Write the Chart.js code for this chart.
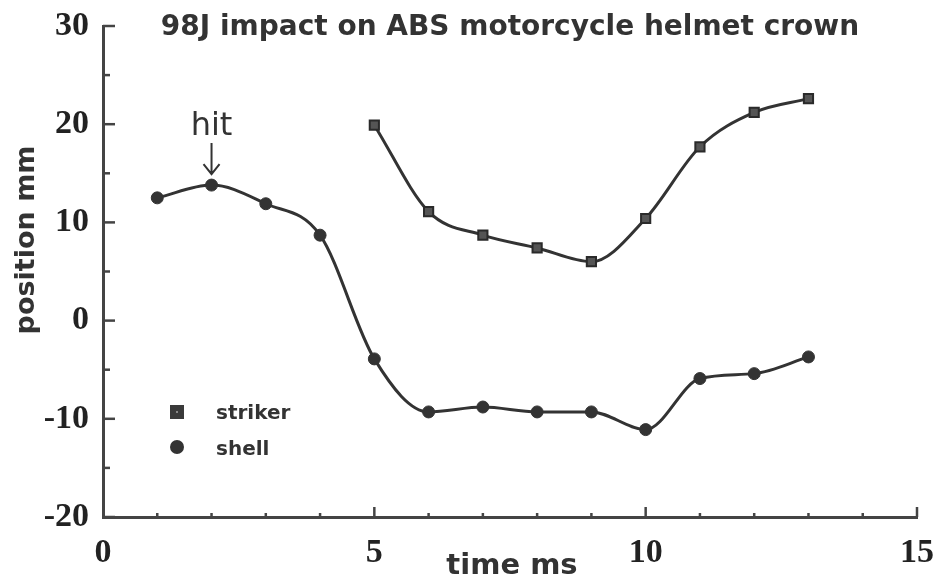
<!DOCTYPE html>
<html>
<head>
<meta charset="utf-8">
<title>98J impact on ABS motorcycle helmet crown</title>
<script src="https://cdn.jsdelivr.net/npm/chart.js@4.4.1/dist/chart.umd.min.js"></script>
<style>
  html, body { margin: 0; padding: 0; background: #fff; }
  #wrap { width: 934px; height: 579px; position: relative; }
</style>
</head>
<body>
<div id="wrap"><canvas id="impactChart"></canvas></div>
<script>
// time in ms, position in mm
const timeMs = [1, 2, 3, 4, 5, 6, 7, 8, 9, 10, 11, 12, 13];
const shellMm = [12.5, 13.8, 11.9, 8.7, -3.9, -9.3, -8.8, -9.3, -9.3, -11.1, -5.9, -5.4, -3.7];
const strikerTime = [5, 6, 7, 8, 9, 10, 11, 12, 13];
const strikerMm = [19.9, 11.1, 8.7, 7.4, 6.0, 10.4, 17.7, 21.2, 22.6];
const xTicks = [0, 5, 10, 15];
const yTicks = [-20, -10, 0, 10, 20, 30];

const ink = '#333';

function points(xs, ys) {
  return xs.map((x, i) => ({ x: x, y: ys[i] }));
}

// labels may spill into the layout padding, so scales ask for none
function fixedScale(size) {
  return function (scale) {
    if (scale.isHorizontal()) scale.height = size; else scale.width = size;
    scale.paddingTop = 0;
    scale.paddingBottom = 0;
    scale.paddingLeft = 0;
    scale.paddingRight = 0;
  };
}

// axis tick marks point inward, plus titles, legend and the hit note
const decorations = {
  id: 'decorations',
  afterDraw(chart) {
    const { ctx, scales: { x, y }, chartArea: area } = chart;
    ctx.save();
    ctx.strokeStyle = '#444';
    ctx.lineWidth = 2.5;

    for (let v = yTicks[0]; v <= yTicks[yTicks.length - 1]; v += 5) {
      const py = y.getPixelForValue(v);
      const len = v % 10 === 0 ? 12 : 7;
      ctx.beginPath();
      ctx.moveTo(area.left, py);
      ctx.lineTo(area.left + len, py);
      ctx.stroke();
    }
    for (let v = xTicks[0] + 1; v <= xTicks[xTicks.length - 1]; v++) {
      const px = x.getPixelForValue(v);
      const len = v % 5 === 0 ? 10 : 4;
      ctx.beginPath();
      ctx.moveTo(px, area.bottom);
      ctx.lineTo(px, area.bottom - len);
      ctx.stroke();
    }

    ctx.fillStyle = ink;
    ctx.textAlign = 'center';
    ctx.textBaseline = 'middle';

    ctx.font = 'bold 28px "DejaVu Sans"';
    ctx.fillText('98J impact on ABS motorcycle helmet crown', 510, 28);

    ctx.font = 'bold 29px "DejaVu Sans"';
    ctx.fillText('time ms', 512, 566);

    ctx.save();
    ctx.translate(27, 240);
    ctx.rotate(-Math.PI / 2);
    ctx.font = 'bold 27px "DejaVu Sans"';
    ctx.fillText('position mm', 0, 0);
    ctx.restore();

    // legend
    ctx.fillStyle = '#3a3a3a';
    ctx.fillRect(170, 405, 14, 14);
    ctx.fillStyle = '#888';
    ctx.fillRect(176, 411, 2, 2);
    ctx.fillStyle = ink;
    ctx.beginPath();
    ctx.arc(177, 447, 7, 0, Math.PI * 2);
    ctx.fill();
    ctx.textAlign = 'left';
    ctx.font = 'bold 20px "DejaVu Sans"';
    ctx.fillText('striker', 216, 414);
    ctx.fillText('shell', 216, 450);

    // "hit" arrow above the shell peak
    const hx = x.getPixelForValue(timeMs[1]);
    const tip = y.getPixelForValue(shellMm[1]) - 11;
    ctx.textAlign = 'center';
    ctx.font = '32px "DejaVu Sans"';
    ctx.fillText('hit', hx, 127);
    ctx.strokeStyle = ink;
    ctx.lineWidth = 2;
    ctx.beginPath();
    ctx.moveTo(hx, 143);
    ctx.lineTo(hx, tip);
    ctx.moveTo(hx - 8, tip - 10);
    ctx.lineTo(hx, tip);
    ctx.lineTo(hx + 8, tip - 10);
    ctx.stroke();
    ctx.restore();
  }
};

const tickFont = { family: '"Liberation Serif"', size: 34, weight: 'bold' };

new Chart(document.getElementById('impactChart'), {
  type: 'line',
  data: {
    datasets: [
      {
        label: 'striker',
        data: points(strikerTime, strikerMm),
        borderColor: ink,
        borderWidth: 3,
        cubicInterpolationMode: 'monotone',
        pointStyle: 'rect',
        pointRadius: 6.5,
        pointBackgroundColor: '#555',
        pointBorderColor: '#2a2a2a',
        pointBorderWidth: 2
      },
      {
        label: 'shell',
        data: points(timeMs, shellMm),
        borderColor: ink,
        borderWidth: 3,
        cubicInterpolationMode: 'monotone',
        pointStyle: 'circle',
        pointRadius: 6,
        pointBackgroundColor: ink,
        pointBorderColor: ink,
        pointBorderWidth: 1
      }
    ]
  },
  options: {
    responsive: true,
    maintainAspectRatio: false,
    animation: false,
    layout: { padding: { top: 26, right: 17, bottom: 0, left: 0 } },
    plugins: {
      legend: { display: false },
      title: { display: false },
      tooltip: { enabled: false }
    },
    scales: {
      x: {
        type: 'linear',
        min: 0,
        max: 15,
        grid: { display: false, drawTicks: false },
        border: { display: true, color: '#444', width: 3 },
        ticks: { stepSize: 5, autoSkip: false, maxRotation: 0, padding: 16, color: '#222', font: tickFont },
        afterFit: fixedScale(62)
      },
      y: {
        type: 'linear',
        min: -20,
        max: 30,
        grid: { display: false, drawTicks: false },
        border: { display: true, color: '#444', width: 3 },
        ticks: { stepSize: 10, autoSkip: false, padding: 14, color: '#222', font: tickFont },
        afterFit: fixedScale(103)
      }
    }
  },
  plugins: [decorations]
});
</script>
</body>
</html>
